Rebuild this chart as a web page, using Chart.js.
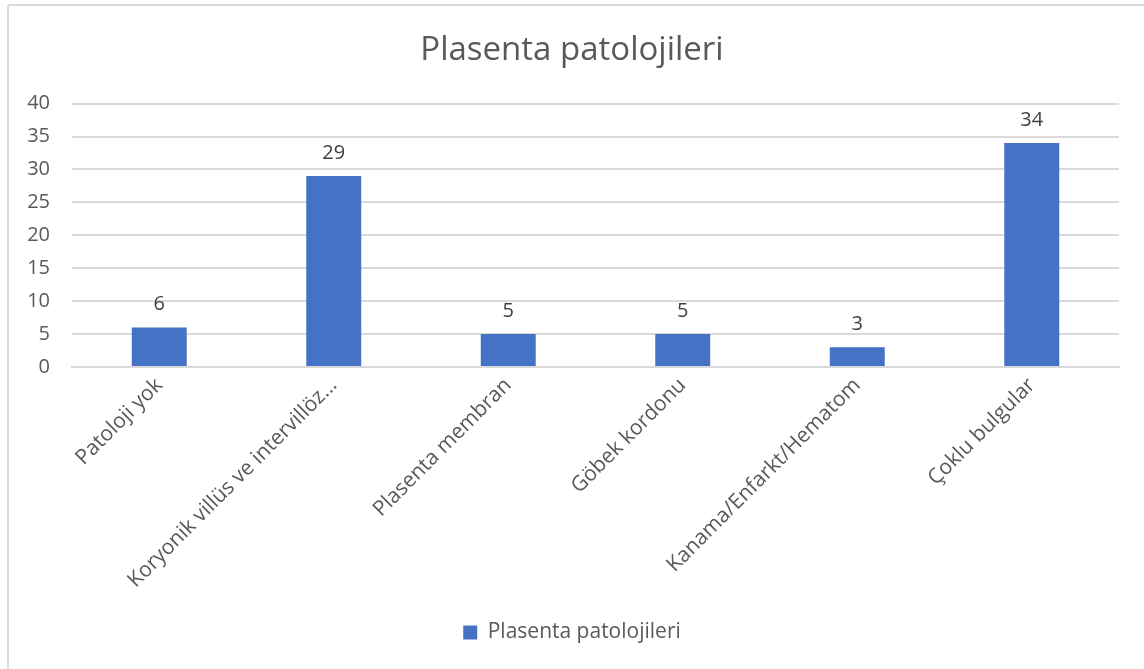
<!DOCTYPE html>
<html>
<head>
<meta charset="utf-8">
<script src="https://cdn.jsdelivr.net/npm/chart.js@4.4.1/dist/chart.umd.min.js"></script>
<style>
  html, body { margin: 0; padding: 0; background: #fff; overflow: hidden; }
  #kutu {
    position: absolute; left: 0; top: 0; width: 1144px; height: 669px;
  }
  #cerceve {
    position: absolute; left: 7px; top: 4px; width: 1200px; height: 720px;
    border: 2px solid #d9d9d9; border-radius: 3px; box-sizing: border-box;
  }
  canvas { position: absolute; left: 0; top: 0; }
</style>
</head>
<body>
<div id="kutu">
  <div id="cerceve"></div>
  <canvas id="grafik" width="1144" height="669"></canvas>
</div>
<script>
var kategoriler = ['Patoloji yok', 'Koryonik villüs ve intervillöz...', 'Plasenta membran',
  'Göbek kordonu', 'Kanama/Enfarkt/Hematom', 'Çoklu bulgular'];
var degerler = [6, 29, 5, 5, 3, 34];
var seriAdi = 'Plasenta patolojileri';
var baslik = 'Plasenta patolojileri';

var yaziTipi = "'Open Sans', 'Noto Sans', sans-serif";

// bar ustu degerler
var degerEtiketi = {
  id: 'degerEtiketi',
  afterDatasetsDraw: function(chart){
    var ctx = chart.ctx;
    var meta = chart.getDatasetMeta(0);
    ctx.save();
    ctx.font = '20px ' + yaziTipi;
    ctx.fillStyle = '#404040';
    ctx.textAlign = 'center';
    ctx.textBaseline = 'middle';
    meta.data.forEach(function(bar, i){
      ctx.fillText(String(degerler[i]), bar.x, bar.y - 23);
    });
    ctx.restore();
  }
};

var veri = {
  labels: kategoriler,
  datasets: [{
    label: seriAdi,
    data: degerler,
    backgroundColor: '#4472C4',
    borderWidth: 0,
    categoryPercentage: 1,
    barPercentage: 0.315
  }]
};

var ayar = {
  type: 'bar',
  data: veri,
  plugins: [degerEtiketi],
  options: {
    responsive: false,
    animation: false,
    layout: { padding: { left: 25, right: 25, top: 31, bottom: 16 } },
    plugins: {
      title: {
        display: true,
        text: baslik,
        color: '#595959',
        font: { family: yaziTipi, size: 33, weight: 'normal' },
        padding: { top: 0, bottom: 33 }
      },
      legend: {
        position: 'bottom',
        labels: {
          color: '#595959',
          font: { family: yaziTipi, size: 21 },
          boxWidth: 14,
          boxHeight: 14,
          padding: 10
        }
      },
      tooltip: { enabled: false }
    },
    scales: {
      x: {
        grid: { display: false, drawTicks: false },
        border: { color: '#d9d9d9', width: 2 },
        ticks: {
          color: '#595959',
          font: { family: yaziTipi, size: 21 },
          minRotation: 45,
          maxRotation: 45,
          padding: 6,
          autoSkip: false
        },
        afterFit: function(scale){ scale.height = 245; }
      },
      y: {
        min: 0,
        max: 40,
        ticks: {
          stepSize: 5,
          color: '#595959',
          font: { family: yaziTipi, size: 20 },
          padding: 22
        },
        grid: { color: '#d9d9d9', lineWidth: 2, drawTicks: false },
        border: { display: false },
        afterFit: function(scale){ scale.width = 47; }
      }
    }
  }
};

var grafik = new Chart(document.getElementById('grafik'), ayar);
</script>
</body>
</html>
